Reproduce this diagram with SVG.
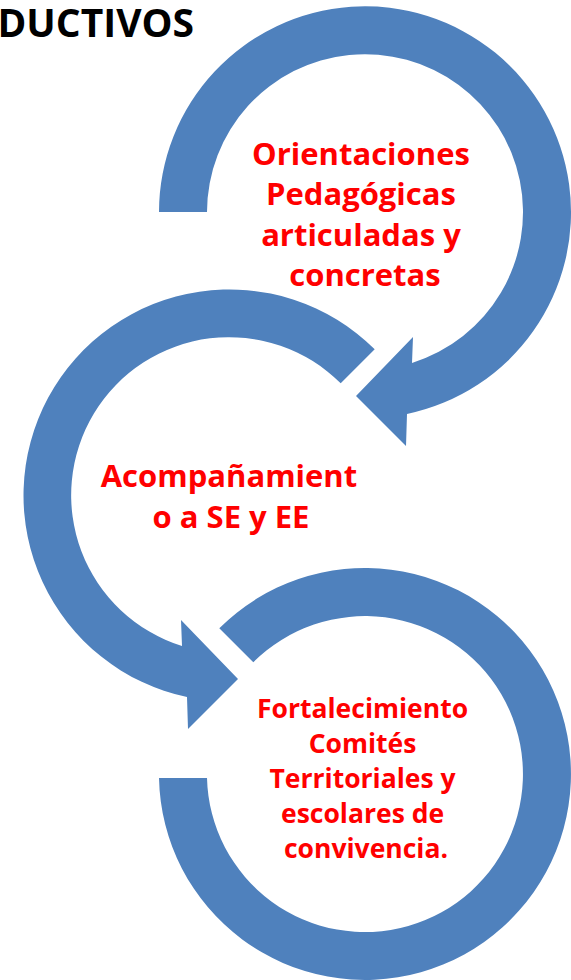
<svg xmlns="http://www.w3.org/2000/svg" width="571" height="980" viewBox="0 0 571 980">
  <style>
    .arrow { fill: #4F81BD; stroke: none; }
    .lbl { font-family: "Open Sans", "Liberation Sans", sans-serif; font-weight: bold; fill: #FF0000; text-anchor: middle; }
    .title { font-family: "Open Sans", "Liberation Sans", sans-serif; font-weight: bold; fill: #000000; font-size: 39px; text-anchor: end; }
  </style>
  <rect width="571" height="980" fill="#FFFFFF"/>
  <text class="title" x="194" y="37">DUCTIVOS</text>
  <g id="connectors">
    <path id="arrow1" class="arrow" d="M159,212 A206,206 0 1 1 407,414 L406,446 L356,396 L413,337 L412,363 A158,158 0 1 0 207,212 Z"/>
    <path id="arrow2" class="arrow" d="M374.7,349.3 A206,206 0 1 0 187,697 L188,729 L238,679 L181,620 L182,646 A158,158 0 1 1 340.7,383.3 Z"/>
    <path id="arrow3" class="arrow" d="M219.3,628.3 A206,206 0 1 1 159,778 L207,778 A158,158 0 1 0 253.3,662.3 Z"/>
  </g>
  <g id="node1">
    <text class="lbl" font-size="31" x="365">
      <tspan x="365" y="165">Orientaciones</tspan>
      <tspan x="365" y="205">Pedagógicas</tspan>
      <tspan x="365" y="246">articuladas y</tspan>
      <tspan x="365" y="286">concretas</tspan>
    </text>
  </g>
  <g id="node2">
    <text class="lbl" font-size="31" x="233">
      <tspan x="233" y="487">Acompañamient</tspan>
      <tspan x="231" y="528">o a SE y EE</tspan>
    </text>
  </g>
  <g id="node3">
    <text class="lbl" font-size="26.5" x="366">
      <tspan x="366" y="718">Fortalecimiento</tspan>
      <tspan x="366" y="753">Comités</tspan>
      <tspan x="366" y="788">Territoriales y</tspan>
      <tspan x="366" y="823">escolares de</tspan>
      <tspan x="366" y="858">convivencia.</tspan>
    </text>
  </g>
</svg>
